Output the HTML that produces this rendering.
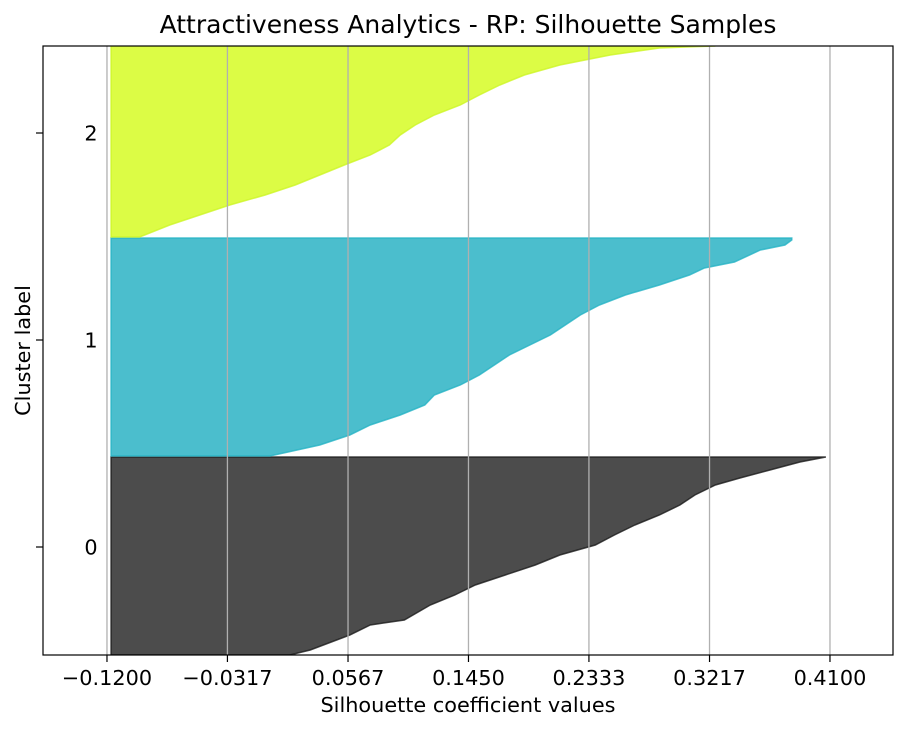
<!DOCTYPE html>
<html><head><meta charset="utf-8"><style>
body{margin:0;background:#fff;}
svg text{font-family:"DejaVu Sans","Liberation Sans",sans-serif;fill:#000;}
</style></head><body>
<svg id="chart" width="912" height="733"></svg>
<script>
const xTicks=[-0.12,-0.0317,0.0567,0.145,0.2333,0.3217,0.41];
const xTickLabels=["\u22120.1200","\u22120.0317","0.0567","0.1450","0.2333","0.3217","0.4100"];
const clusterLabels=["0","1","2"];
const clusterLabelPos=[108,315,522];
const baseValue=-0.117;
const c0Idx=[0,5,20,30,35,50,60,70,80,90,100,110,120,130,140,150,160,170,177,185,193,198];
const c0Val=[0.014,0.029,0.058,0.073,0.098,0.117,0.135,0.150,0.172,0.194,0.212,0.238,0.252,0.267,0.285,0.300,0.311,0.326,0.344,0.366,0.388,0.407];
const c1Idx=[199,210,220,230,240,250,260,270,280,290,300,310,320,330,340,350,360,370,380,387,393,405,410,415,417];
const c1Val=[-0.0005,0.036,0.058,0.073,0.095,0.113,0.120,0.139,0.153,0.164,0.175,0.190,0.205,0.216,0.227,0.241,0.260,0.285,0.307,0.318,0.340,0.359,0.377,0.382,0.382];
const c2Idx=[418,430,440,450,460,470,480,490,500,510,520,530,540,550,560,570,580,590,600,607,609];
const c2Val=[-0.096,-0.074,-0.052,-0.030,-0.004,0.018,0.036,0.054,0.073,0.087,0.095,0.106,0.120,0.139,0.153,0.168,0.186,0.212,0.249,0.285,0.326];

const NS="http://www.w3.org/2000/svg";
const svg=document.getElementById('chart');
const L=43,R=893,T=46,B=655;
const xMin=-0.1669,xMax=0.4562,yMin=0,yMax=609;
const sx=v=>L+(v-xMin)/(xMax-xMin)*(R-L);
const sy=v=>B-(v-yMin)/(yMax-yMin)*(B-T);
function mk(tag,attrs,parent){const e=document.createElementNS(NS,tag);for(const k in attrs)e.setAttribute(k,attrs[k]);(parent||svg).appendChild(e);return e;}
const defs=mk('defs',{});const cp=mk('clipPath',{id:'clip'},defs);mk('rect',{x:L,y:T,width:R-L,height:B-T},cp);
const g=mk('g',{'clip-path':'url(#clip)'});


function cluster(idx,val,fill,stroke,name){
  let d='M'+sx(baseValue)+','+sy(idx[0]);
  for(let i=0;i<idx.length;i++){ d+=' L'+sx(val[i])+','+sy(idx[i]); }
  d+=' L'+sx(baseValue)+','+sy(idx[idx.length-1])+' Z';
  const p=mk('path',{d:d,fill:fill,stroke:stroke,'stroke-width':1.5,'stroke-opacity':0.8},g);
  
  
}
cluster(c0Idx,c0Val,'#4c4c4c','#1a1a1a','cluster-0-silhouette');
cluster(c1Idx,c1Val,'#4bbecd','#26b3c4','cluster-1-silhouette');
cluster(c2Idx,c2Val,'#dcfc45','#cdf525','cluster-2-silhouette');
xTicks.forEach((t,i)=>{
  const x=sx(t);
  const gl=mk('line',{x1:x,x2:x,y1:T,y2:B,stroke:'#b0b0b0','stroke-width':1.3});
  
  
  mk('line',{x1:x,x2:x,y1:B,y2:B+7,stroke:'#000','stroke-width':1.2});
  const tx=mk('text',{x:x,y:685,'text-anchor':'middle','font-size':20.8});
  tx.textContent=xTickLabels[i];
  
  
});
clusterLabels.forEach((c,i)=>{
  const y=sy(clusterLabelPos[i]);
  mk('line',{x1:L-7,x2:L,y1:y,y2:y,stroke:'#000','stroke-width':1.2});
  const tx=mk('text',{x:91,y:y+7.5,'text-anchor':'middle','font-size':20.8});
  tx.textContent=c;
  
  
});
const fr=mk('rect',{x:L,y:T,width:R-L,height:B-T,fill:'none',stroke:'#000','stroke-width':1.2});


const title=mk('text',{x:(L+R)/2,y:33,'text-anchor':'middle','font-size':25});
title.textContent='Attractiveness Analytics - RP: Silhouette Samples';


const xl=mk('text',{x:(L+R)/2,y:712,'text-anchor':'middle','font-size':20.8});
xl.textContent='Silhouette coefficient values';


const yl=mk('text',{x:30,y:(T+B)/2,'text-anchor':'middle','font-size':20.8,transform:'rotate(-90 30 '+((T+B)/2)+')'});
yl.textContent='Cluster label';


</script>
</body></html>
